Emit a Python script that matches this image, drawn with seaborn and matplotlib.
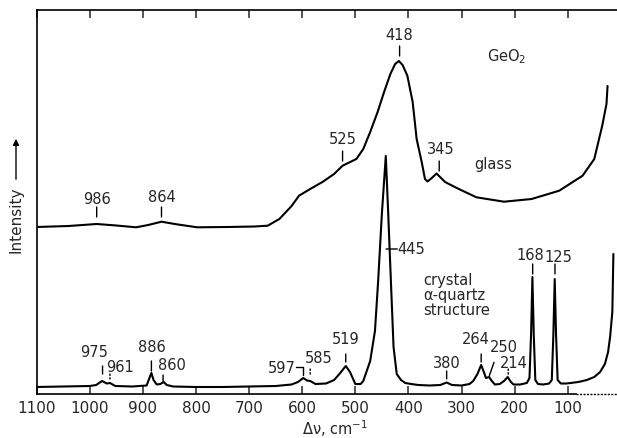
import matplotlib
matplotlib.use("Agg")
import matplotlib.pyplot as plt
import seaborn as sns
import pandas as pd

sns.set_style("white")
plt.rcParams['font.family'] = ['DejaVu Sans']

# ---------------- data ----------------
glass_wavenumber = [1100, 1040, 987, 950, 913, 890, 865, 840, 798, 740, 690, 665, 643, 620, 606,
                    585, 561, 540, 524, 498, 485, 472, 458, 446, 434, 425, 418, 411, 402, 392, 384.5, 375,
                    368.8, 364, 356, 347, 331, 309, 272, 220, 168, 116, 72, 50, 35, 27, 25]
glass_intensity = [167, 168, 170, 168.5, 166.7, 169, 172.3, 170, 166.7, 167, 167.5, 168.3, 175, 188, 198.3,
                   205, 212.3, 220, 228.3, 235, 245, 262, 282, 301.7, 320, 330, 333, 329, 318.3, 292, 255, 232,
                   215, 212.5, 216, 220.5, 212, 206, 196.7, 192.3, 195, 203.3, 218.3, 235, 268.3, 290, 308]

crystal_wavenumber = [1100, 1050, 1000, 988, 977, 968, 962, 952, 920, 893, 887, 884, 880, 874, 867,
                      861, 855, 843, 800, 750, 700, 650, 620, 608, 598, 591, 585, 575, 555, 540,
                      530, 518, 510, 500, 490, 485, 472, 463, 457, 450, 442.6, 438, 433, 428, 422,
                      414, 406, 395, 381, 360, 340, 328, 318, 300, 285, 278, 270, 263, 258, 254,
                      248, 243, 237, 228, 220, 213, 207, 202, 190, 177, 172, 169, 166.5, 164, 161,
                      156, 146, 135, 130, 127, 124.5, 122, 119, 113, 102, 80, 64, 50, 39, 30,
                      24, 20, 16, 14]
crystal_intensity = [7, 7.5, 8, 9, 13, 10.5, 11, 8, 7.5, 8.5, 17, 21, 14, 9.5, 10,
                     12, 9, 7.5, 7, 7, 7.5, 8, 9.5, 12, 16, 13.5, 13, 10, 10.5, 14,
                     20, 28, 22, 10, 10, 13, 33, 63, 113, 180, 238, 180, 113, 47, 20,
                     14, 11, 10, 9, 8.5, 9, 11.5, 9, 8.5, 10, 13, 20, 29, 22, 16,
                     17, 13, 9.5, 10, 13, 17, 12, 9.5, 9.5, 11, 16, 60, 117, 60, 14,
                     10, 9.5, 10.5, 14, 60, 115, 60, 14, 10.5, 10.5, 12, 14, 17, 22, 30,
                     42, 58, 82, 140]

tick_values = [1100, 1000, 900, 800, 700, 600, 500, 400, 300, 200, 100]
tick_labels = ["1100", "1000", "900", "800", "700", "600", "500", "400", "300", "200", "100"]

# peak labels: text, text x, text y
peak_labels = ["986", "864", "525", "418", "345",
               "975", "961", "886", "860", "585", "519", "380", "264", "250", "214", "168", "125"]
peak_label_x = [987, 865, 524, 416.6, 339,
                992, 943, 883.6, 845, 569, 518.5, 328, 272.7, 221, 202.4, 171, 118]
peak_label_y = [195, 198, 255, 360, 245,
                42.5, 27.5, 47.5, 29, 36.5, 55, 31.7, 55, 48, 31.7, 140, 137]
# leader ticks: x0, y0, x1, y1, style
leader_x0 = [987, 865, 524, 416.6, 342, 976, 962, 884, 862, 585, 518, 328, 263, 247.6, 212, 166, 124]
leader_y0 = [177, 177, 233, 338, 223, 20, 15, 23, 13, 18, 32, 15, 32, 18.3, 18, 120, 120]
leader_x1 = [987, 865, 524, 416.6, 342, 976, 962, 884, 862, 585, 518, 328, 263, 238.8, 212, 166, 124]
leader_y1 = [187, 187, 243, 348, 233, 28, 20, 33, 19, 25, 40, 23, 40, 31.7, 25, 130, 130]
leader_style = ["-", "-", "-", "-", "-", "-", ":", "-", "-", ":", "-", "-", "-", "-", ":", "-", "-"]

# ---------------- figure ----------------
W, H = 617, 439
fig = plt.figure(figsize=(W / 100, H / 100), dpi=100)
ax = fig.add_axes([36.7 / W, (H - 395) / H, (W - 36.7) / W, (395 - 11) / H])

glass_df = pd.DataFrame({"wavenumber": glass_wavenumber, "intensity": glass_intensity})
crystal_df = pd.DataFrame({"wavenumber": crystal_wavenumber, "intensity": crystal_intensity})
sns.lineplot(data=glass_df, x="wavenumber", y="intensity", ax=ax, color="black",
             lw=1.5, sort=False, estimator=None)
sns.lineplot(data=crystal_df, x="wavenumber", y="intensity", ax=ax, color="black",
             lw=1.5, sort=False, estimator=None)

ax.set_xlim(1100, 7.2)
ax.set_ylim(0, 384)
ax.set_xlabel("")
ax.set_ylabel("")
ax.set_yticks([])
ax.set_xticks(tick_values)
ax.set_xticklabels(tick_labels, fontsize=11)
ax.tick_params(axis="x", direction="in", length=6, width=1.1, pad=4,
               top=True, bottom=True, labeltop=False)
for s in ["left", "bottom", "top"]:
    ax.spines[s].set_visible(True)
    ax.spines[s].set_linewidth(1.2)
    ax.spines[s].set_color("black")
ax.spines["right"].set_visible(False)
ax.spines["bottom"].set_bounds(1100, 85)
ax.plot([85, 7.2], [0, 0], transform=ax.get_xaxis_transform(), color="black",
        lw=1.0, ls=(0, (1.5, 1)), clip_on=False)

# peak labels
for t, x, y in zip(peak_labels, peak_label_x, peak_label_y):
    ax.text(x, y, t, ha="center", va="center", fontsize=10.5)
for x0, y0, x1, y1, st in zip(leader_x0, leader_y0, leader_x1, leader_y1, leader_style):
    ax.annotate("", xy=(x0, y0), xytext=(x1, y1),
                arrowprops=dict(arrowstyle="-", lw=1.0, ls=st, color="black",
                                shrinkA=0, shrinkB=0))

# 597 with hooked leader
ax.text(613, 26, "597", ha="right", va="center", fontsize=10.5)
ax.annotate("", xy=(598, 19), xytext=(611, 27),
            arrowprops=dict(arrowstyle="-", lw=1.0, color="black", shrinkA=0, shrinkB=0,
                            connectionstyle="angle,angleA=0,angleB=90,rad=0"))
# 445 with horizontal leader
ax.text(420, 145, "445", ha="left", va="center", fontsize=10.5)
ax.annotate("", xy=(442, 145), xytext=(421, 145),
            arrowprops=dict(arrowstyle="-", lw=1.0, color="black", shrinkA=0, shrinkB=0))

ax.text(252, 338, "GeO$_2$", ha="left", va="center", fontsize=10.5)
ax.text(276, 230, "glass", ha="left", va="center", fontsize=10.5)
ax.text(372, 122, "crystal\nα-quartz\nstructure", ha="left", va="top", fontsize=10.5,
        linespacing=1.0)

# axis titles
fig.text(335 / W, 1 - 429 / H, "Δν, cm$^{-1}$", ha="center", va="center", fontsize=10.5)
fig.text(16 / W, 1 - 220 / H, "Intensity", ha="center", va="center", rotation=90, fontsize=11)
fig.add_artist(matplotlib.patches.FancyArrowPatch((16 / W, 1 - 183 / H), (16 / W, 1 - 137 / H),
                                                  transform=fig.transFigure, arrowstyle="-|>",
                                                  mutation_scale=9, lw=1.0, color="black"))

fig.savefig("out.png", dpi=100)
